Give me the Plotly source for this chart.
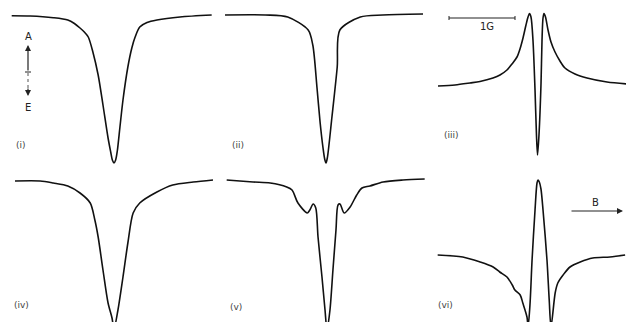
import plotly.graph_objects as go

W, H = 626, 322
HS = 66.0   # px per gauss (from the 1 G scale bar)
VS = 100.0  # px per signal unit

# ---------------- data (field offset in G, signal in arb. units) ----------------
field_i = [-1.55, -1.27, -0.92, -0.70, -0.60, -0.515, -0.45, -0.39, -0.32, -0.24, -0.167, -0.09, -0.05,
           -0.025, 0.0, 0.025, 0.05, 0.09, 0.136, 0.21, 0.27, 0.32, 0.39, 0.50, 0.65, 1.0, 1.48]
sig_i = [-0.007, -0.01, -0.027, -0.05, -0.085, -0.13, -0.17, -0.22, -0.37, -0.60, -0.90, -1.23, -1.37,
         -1.45, -1.48, -1.45, -1.36, -1.12, -0.85, -0.52, -0.33, -0.22, -0.12, -0.075, -0.05, -0.02, 0.0]

field_ii = [-1.53, -0.92, -0.58, -0.27, -0.20, -0.136, -0.09, -0.045, -0.02, 0.0, 0.02, 0.09, 0.17, 0.21,
            0.52, 0.86, 1.47]
sig_ii = [0.0, 0.0, -0.02, -0.15, -0.30, -0.73, -1.07, -1.33, -1.44, -1.48, -1.43, -1.02, -0.52, -0.15,
          -0.02, 0.0, 0.01]

field_iii = [-1.5, -1.242, -1.015, -0.864, -0.667, -0.561, -0.455, -0.379, -0.303, -0.258, -0.212, -0.167,
             -0.136, -0.114, -0.091, -0.061, -0.030, -0.008, 0.008, 0.030, 0.061, 0.076, 0.091, 0.106,
             0.129, 0.167, 0.212, 0.273, 0.348, 0.424, 0.576, 0.758, 1.061, 1.364]
sig_iii = [-0.01, 0.0, 0.02, 0.035, 0.07, 0.10, 0.15, 0.21, 0.28, 0.36, 0.47, 0.60,
           0.68, 0.715, 0.68, 0.45, -0.05, -0.50, -0.70, -0.50, 0.02, 0.45, 0.67, 0.715,
           0.68, 0.55, 0.43, 0.33, 0.24, 0.17, 0.11, 0.07, 0.03, 0.01]

field_iv = [-1.5, -1.12, -0.92, -0.70, -0.515, -0.36, -0.29, -0.24, -0.167, -0.09, -0.03, 0.0,
            0.06, 0.136, 0.21, 0.29, 0.39, 0.65, 0.89, 1.2, 1.5]
sig_iv = [0.0, 0.0, -0.02, -0.05, -0.12, -0.22, -0.39, -0.56, -0.89, -1.22, -1.37, -1.48,
          -1.29, -0.96, -0.62, -0.32, -0.22, -0.11, -0.04, -0.01, 0.01]

field_v = [-1.52, -1.12, -0.86, -0.61, -0.53, -0.44, -0.30, -0.26, -0.21, -0.17, -0.136, -0.076, -0.03,
           0.0, 0.045, 0.09, 0.136, 0.167, 0.197, 0.26, 0.35, 0.45, 0.53, 0.65, 0.85, 1.15, 1.48]
sig_v = [0.0, -0.02, -0.03, -0.07, -0.10, -0.23, -0.33, -0.30, -0.24, -0.28, -0.57, -0.97, -1.30,
         -1.50, -1.30, -0.90, -0.50, -0.25, -0.24, -0.33, -0.27, -0.15, -0.08, -0.06, -0.02, 0.0, 0.01]

field_vi = [-1.52, -1.14, -0.88, -0.68, -0.58, -0.47, -0.39, -0.35, -0.27, -0.23, -0.167, -0.15, -0.12,
            -0.09, -0.045, -0.015, 0.0, 0.02, 0.045, 0.076, 0.136, 0.17, 0.197, 0.26, 0.30, 0.38, 0.485,
            0.64, 0.83, 1.09, 1.32]
sig_vi = [0.0, -0.02, -0.07, -0.12, -0.17, -0.22, -0.30, -0.35, -0.40, -0.48, -0.62, -0.72, -0.48,
          -0.05, 0.45, 0.72, 0.75, 0.73, 0.66, 0.45, -0.05, -0.45, -0.72, -0.38, -0.28, -0.20, -0.12,
          -0.07, -0.03, -0.02, 0.0]

panel_labels = ["(i)", "(ii)", "(iii)", "(iv)", "(v)", "(vi)"]

# ---------------- layout geometry (pixels) ----------------
panels = [
    dict(x=field_i, y=sig_i, box=(0, 218, 0, 170), cx=114, base=15, lab=(21, 145)),
    dict(x=field_ii, y=sig_ii, box=(218, 428, 0, 170), cx=326, base=15, lab=(238, 145)),
    dict(x=field_iii, y=sig_iii, box=(428, 626, 0, 170), cx=537, base=85, lab=(451, 135)),
    dict(x=field_iv, y=sig_iv, box=(0, 218, 170, 322), cx=114, base=181, lab=(21, 305)),
    dict(x=field_v, y=sig_v, box=(218, 428, 170, 322), cx=327, base=180, lab=(236, 307)),
    dict(x=field_vi, y=sig_vi, box=(428, 626, 170, 322), cx=538, base=255, lab=(445, 305)),
]

def px(x):
    return x / W

def py(y):
    return 1 - y / H

fig = go.Figure()
layout = {}
annotations = []
LBL_FONT = dict(family="DejaVu Sans", size=9, color="#444")
TXT_FONT = dict(family="DejaVu Sans", size=10, color="#222")

for k, (p, lab) in enumerate(zip(panels, panel_labels), start=1):
    xa = "x" if k == 1 else f"x{k}"
    ya = "y" if k == 1 else f"y{k}"
    fig.add_trace(go.Scatter(
        x=p["x"], y=p["y"], mode="lines",
        line=dict(color="#111", width=1.6, shape="spline", smoothing=0.8),
        xaxis=xa, yaxis=ya, hoverinfo="skip", showlegend=False))
    l, r, t, b = p["box"]
    layout["xaxis" if k == 1 else f"xaxis{k}"] = dict(
        domain=[l / W, r / W], range=[(l - p["cx"]) / HS, (r - p["cx"]) / HS],
        visible=False, anchor=ya, fixedrange=True)
    layout["yaxis" if k == 1 else f"yaxis{k}"] = dict(
        domain=[1 - b / H, 1 - t / H], range=[-(b - p["base"]) / VS, (p["base"] - t) / VS],
        visible=False, anchor=xa, fixedrange=True)
    annotations.append(dict(x=px(p["lab"][0]), y=py(p["lab"][1]), xref="paper", yref="paper",
                            text=lab, showarrow=False, font=LBL_FONT,
                            xanchor="center", yanchor="middle"))

# A / E indicator
annotations += [
    dict(x=px(28), y=py(36), xref="paper", yref="paper", text="A", showarrow=False,
         font=TXT_FONT, xanchor="center", yanchor="middle"),
    dict(x=px(28), y=py(107), xref="paper", yref="paper", text="E", showarrow=False,
         font=TXT_FONT, xanchor="center", yanchor="middle"),
    dict(x=px(28), y=py(45), xref="paper", yref="paper", ax=0, ay=27, showarrow=True,
         arrowhead=2, arrowsize=1.0, arrowwidth=1.2, arrowcolor="#222", text=""),
    dict(x=px(28), y=py(96), xref="paper", yref="paper", ax=0, ay=-9, showarrow=True,
         arrowhead=2, arrowsize=1.0, arrowwidth=1.2, arrowcolor="#222", text=""),
    # 1 G scale bar label
    dict(x=px(487), y=py(27), xref="paper", yref="paper", text="1G", showarrow=False,
         font=TXT_FONT, xanchor="center", yanchor="middle"),
    # B arrow
    dict(x=px(595), y=py(202), xref="paper", yref="paper", text="B", showarrow=False,
         font=TXT_FONT, xanchor="center", yanchor="middle"),
    dict(x=px(623), y=py(211), xref="paper", yref="paper", ax=-53, ay=0, showarrow=True,
         arrowhead=2, arrowsize=1.0, arrowwidth=1.2, arrowcolor="#222", text=""),
]

shapes = [
    # tick and dotted line of the A/E indicator
    dict(type="line", xref="paper", yref="paper", x0=px(25), x1=px(31), y0=py(72), y1=py(72),
         line=dict(color="#222", width=1)),
    dict(type="line", xref="paper", yref="paper", x0=px(28), x1=px(28), y0=py(73), y1=py(88),
         line=dict(color="#555", width=1, dash="dot")),
    # 1 G scale bar
    dict(type="line", xref="paper", yref="paper", x0=px(449), x1=px(515), y0=py(18), y1=py(18),
         line=dict(color="#222", width=1.2)),
    dict(type="line", xref="paper", yref="paper", x0=px(449), x1=px(449), y0=py(16), y1=py(20),
         line=dict(color="#222", width=1)),
    dict(type="line", xref="paper", yref="paper", x0=px(515), x1=px(515), y0=py(16), y1=py(20),
         line=dict(color="#222", width=1)),
]

fig.update_layout(
    width=W, height=H, margin=dict(l=0, r=0, t=0, b=0),
    paper_bgcolor="white", plot_bgcolor="rgba(0,0,0,0)",
    annotations=annotations, shapes=shapes, showlegend=False, **layout)

fig.write_html("out.html", config={"displayModeBar": False})
